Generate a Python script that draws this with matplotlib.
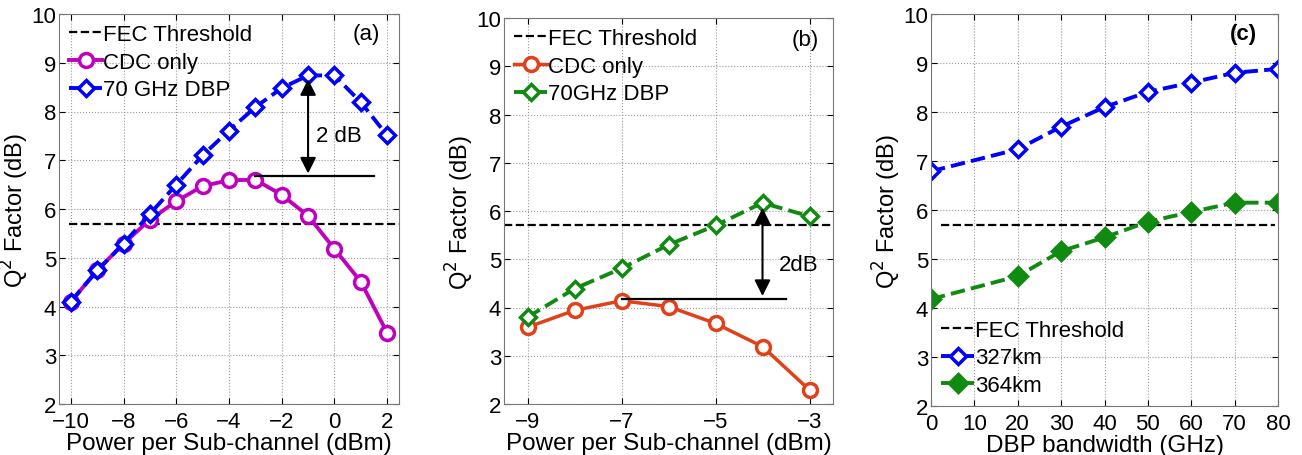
import matplotlib.pyplot as plt

plt.rcParams['font.family'] = ['Liberation Sans', 'DejaVu Sans']
plt.rcParams['font.size'] = 16

# panel (a)
pa = [-10, -9, -8, -7, -6, -5, -4, -3, -2, -1, 0, 1, 2]
cdc_a = [4.10, 4.74, 5.29, 5.78, 6.16, 6.47, 6.59, 6.60, 6.29, 5.86, 5.18, 4.51, 3.46]
dbp_a = [4.10, 4.74, 5.29, 5.90, 6.50, 7.10, 7.61, 8.09, 8.48, 8.74, 8.74, 8.19, 7.51]

# panel (b)
pb = [-9, -8, -7, -6, -5, -4, -3]
cdc_b = [3.59, 3.94, 4.14, 4.02, 3.67, 3.19, 2.29]
dbp_b = [3.80, 4.39, 4.81, 5.30, 5.70, 6.17, 5.89]

# panel (c)
bw = [0, 20, 30, 40, 50, 60, 70, 80]
q_327 = [6.79, 7.24, 7.70, 8.10, 8.41, 8.60, 8.80, 8.88]
q_364 = [4.18, 4.65, 5.16, 5.44, 5.76, 5.96, 6.15, 6.15]

fec = 5.7
ylab = r'Q$^2$ Factor (dB)'
xlab = 'Power per Sub-channel (dBm)'

fig = plt.figure(figsize=(13.02, 4.56), dpi=100)
axa = fig.add_axes([59/1302, 1-405/456, 340/1302, 390/456])
axb = fig.add_axes([504/1302, 1-405/456, 329/1302, 386/456])
axc = fig.add_axes([931/1302, 1-407/456, 347/1302, 392/456])

leg_kw = dict(frameon=False, fontsize=16, handlelength=1.5, handletextpad=0.05,
              borderaxespad=0.15, labelspacing=0.3, borderpad=0.3)


def style(ax):
    ax.set_ylim(2, 10)
    ax.set_yticks(range(2, 11))
    ax.grid(True, linestyle=':', color='#999999', linewidth=0.8)
    ax.tick_params(direction='in', top=True, right=True, labelsize=16, length=4, pad=2)
    ax.tick_params(axis='x', pad=5)
    for s in ax.spines.values():
        s.set_color('#777777')
    ax.set_ylabel(ylab, fontsize=17, labelpad=0)


# (a)
axa.axhline(fec, color='k', ls='--', lw=1.6, label='FEC Threshold', xmin=0.03, xmax=1)
axa.plot(pa, cdc_a, '-o', color='#c000c0', lw=2.8, ms=10, mfc='white', mew=2.5, label='CDC only')
axa.plot(pa, dbp_a, '--D', color='#0000ff', lw=2.8, ms=8.5, mfc='white', mew=2.5, label='70 GHz DBP')
axa.set_xlim(-10.45, 2.45)
axa.set_xticks(range(-10, 3, 2))
axa.annotate('', xy=(-1, 8.72), xytext=(-1, 6.67),
             arrowprops=dict(arrowstyle='<|-|>', color='k', lw=1.5, mutation_scale=24))
axa.plot([-3, 1.5], [6.67, 6.67], color='k', lw=1.6)
axa.text(-0.7, 7.5, '2 dB', fontsize=16, va='center')
axa.text(1.2, 9.6, '(a)', fontsize=16, ha='center', va='center')
style(axa)
axa.set_xlabel(xlab, fontsize=17.5, labelpad=0)
axa.legend(loc='upper left', **leg_kw)

# (b)
axb.axhline(fec, color='k', ls='--', lw=1.6, label='FEC Threshold')
axb.plot(pb, cdc_b, '-o', color='#e0401a', lw=2.5, ms=10, mfc='white', mew=2.5, label='CDC only')
axb.plot(pb, dbp_b, '--D', color='#118a11', lw=2.8, ms=8.5, mfc='white', mew=2.5, label='70GHz DBP')
axb.set_xlim(-9.5, -2.5)
axb.set_xticks([-9, -7, -5, -3])
axb.annotate('', xy=(-4, 6.12), xytext=(-4, 4.18),
             arrowprops=dict(arrowstyle='<|-|>', color='k', lw=1.5, mutation_scale=24))
axb.plot([-7, -3.5], [4.18, 4.18], color='k', lw=1.6)
axb.text(-3.65, 4.9, '2dB', fontsize=16, va='center')
axb.text(-3.1, 9.55, '(b)', fontsize=16, ha='center', va='center')
style(axb)
axb.set_xlabel(xlab, fontsize=17.5, labelpad=0)
axb.legend(loc='upper left', **leg_kw)

# (c)
axc.axhline(fec, color='k', ls='--', lw=1.6, label='FEC Threshold', xmin=0.03, xmax=0.99)
axc.plot(bw, q_327, '--D', color='#0000ff', lw=2.8, ms=8.5, mfc='white', mew=2.5, label='327km')
axc.plot(bw, q_364, '--D', color='#118a11', lw=2.8, ms=9, mfc='#118a11', mew=2.5, label='364km')
axc.set_xlim(0, 80)
axc.set_xticks(range(0, 81, 10))
axc.text(72, 9.6, '(c)', fontsize=16, fontweight='bold', ha='center', va='center')
style(axc)
axc.set_xlabel('DBP bandwidth (GHz)', fontsize=17.5, labelpad=0)
axc.legend(loc='lower left', bbox_to_anchor=(0.0, 0.0), **leg_kw)

fig.savefig('out.png', dpi=100)
